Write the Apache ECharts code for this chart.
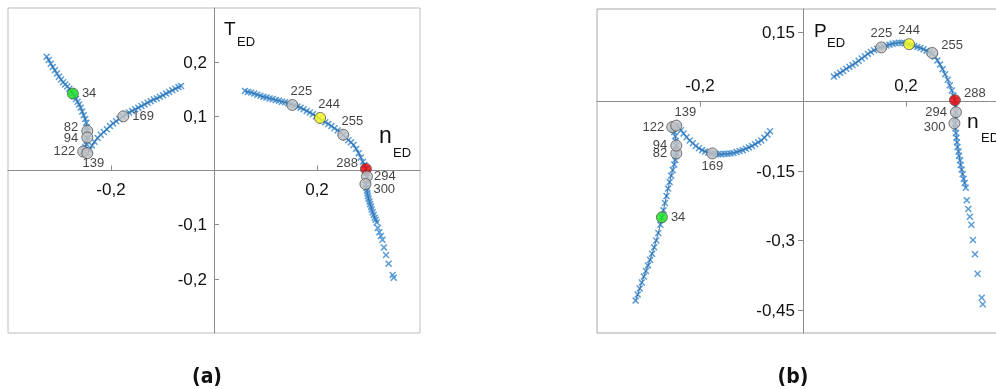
<!DOCTYPE html>
<html>
<head>
<meta charset="utf-8">
<script src="https://cdn.jsdelivr.net/npm/echarts@6/dist/echarts.min.js"></script>
<style>
  html, body { margin: 0; padding: 0; background: #ffffff; }
  #chart { width: 996px; height: 389px; }
</style>
</head>
<body>
<div id="chart"></div>
<script>
// Trajectory of the system in the (n_ED, T_ED) and (n_ED, P_ED) planes.
// Left branch: descending limb to the minimum near state 139, then rising limb past 169.
const nLeft = [-0.325,-0.321,-0.317,-0.313,-0.309,-0.305,-0.301,-0.297,-0.293,-0.289,-0.285,-0.281,-0.277,-0.274,-0.271,-0.268,-0.265,-0.262,-0.259,-0.256,-0.253,-0.250,-0.248,-0.247,-0.246,-0.246,-0.246,-0.247,-0.248,-0.250,-0.252,-0.254,-0.250,-0.246,
  -0.242,-0.237,-0.232,-0.226,-0.220,-0.214,-0.208,-0.202,-0.196,-0.190,-0.184,-0.177,-0.171,-0.165,-0.159,-0.153,-0.147,-0.141,-0.135,-0.129,-0.123,-0.117,-0.111,-0.105,-0.099,-0.093,-0.087,-0.081,-0.075,-0.069,-0.064];
const tLeft = [0.210,0.204,0.197,0.191,0.185,0.179,0.173,0.168,0.163,0.159,0.155,0.151,0.146,0.142,0.137,0.132,0.127,0.122,0.116,0.109,0.102,0.095,0.088,0.080,0.073,0.067,0.061,0.055,0.049,0.043,0.038,0.035,0.033,0.032,
  0.038,0.046,0.053,0.060,0.066,0.071,0.076,0.082,0.087,0.091,0.095,0.100,0.104,0.107,0.110,0.113,0.116,0.119,0.122,0.125,0.128,0.131,0.133,0.136,0.139,0.142,0.145,0.148,0.151,0.154,0.156];
const pLeft = [-0.430,-0.417,-0.404,-0.391,-0.378,-0.366,-0.354,-0.342,-0.329,-0.315,-0.300,-0.284,-0.266,-0.250,-0.235,-0.219,-0.204,-0.188,-0.174,-0.160,-0.148,-0.136,-0.126,-0.118,-0.112,-0.103,-0.095,-0.085,-0.075,-0.066,-0.060,-0.055,-0.053,-0.052,
  -0.055,-0.062,-0.069,-0.077,-0.084,-0.090,-0.096,-0.101,-0.105,-0.108,-0.110,-0.112,-0.113,-0.114,-0.114,-0.113,-0.113,-0.112,-0.111,-0.109,-0.107,-0.105,-0.102,-0.099,-0.096,-0.092,-0.088,-0.084,-0.078,-0.071,-0.064];

// Right branch: arc through 225, 244, 255 down to 288-300 and beyond.
const nRight = [0.060,0.066,0.072,0.078,0.084,0.090,0.096,0.102,0.108,0.114,0.120,0.126,0.132,0.138,0.144,0.150,0.156,0.162,0.168,0.174,0.180,0.186,0.192,0.198,0.204,0.210,0.216,0.222,0.228,0.234,0.240,0.246,0.251,0.256,0.261,0.266,0.271,0.276,0.281,0.285,0.289,0.292,0.295,0.296,0.297,0.296,0.295,
  0.296,0.297,0.298,0.299,0.300,0.302,0.303,0.305,0.306,0.308,0.310,0.312,0.314,0.316];
const tRight = [0.147,0.145,0.144,0.142,0.140,0.138,0.136,0.135,0.133,0.132,0.130,0.129,0.127,0.126,0.124,0.122,0.120,0.118,0.116,0.113,0.110,0.107,0.104,0.100,0.097,0.093,0.089,0.086,0.082,0.078,0.074,0.070,0.066,0.061,0.056,0.052,0.047,0.040,0.032,0.024,0.016,0.010,0.003,-0.004,-0.012,-0.019,-0.026,
  -0.032,-0.037,-0.042,-0.047,-0.052,-0.057,-0.062,-0.067,-0.072,-0.077,-0.082,-0.087,-0.091,-0.096];
const pRight = [0.054,0.058,0.062,0.066,0.071,0.075,0.079,0.083,0.088,0.093,0.098,0.103,0.107,0.111,0.114,0.117,0.119,0.121,0.123,0.125,0.126,0.127,0.127,0.126,0.124,0.122,0.120,0.118,0.116,0.113,0.110,0.107,0.104,0.097,0.089,0.080,0.070,0.059,0.047,0.035,0.024,0.013,0.002,-0.010,-0.023,-0.035,-0.047,
  -0.058,-0.068,-0.078,-0.088,-0.098,-0.108,-0.117,-0.127,-0.137,-0.147,-0.157,-0.167,-0.176,-0.186];

// Sparse final states.
const nTail = [0.318,0.321,0.324,0.327,0.330,0.334,0.339,0.347,0.349];
const tTail = [-0.106,-0.114,-0.121,-0.128,-0.142,-0.156,-0.172,-0.193,-0.198];
const pTail = [-0.213,-0.232,-0.249,-0.266,-0.299,-0.330,-0.372,-0.424,-0.438];

// Numbered states marked with circles.
const markLabels = ['34','82','94','122','139','169','225','244','255','288','294','300'];
const markN = [-0.274,-0.246,-0.246,-0.254,-0.246,-0.176,0.152,0.206,0.251,0.295,0.297,0.294];
const markT = [0.142,0.073,0.061,0.035,0.032,0.100,0.121,0.097,0.066,0.003,-0.011,-0.025];
const markP = [-0.250,-0.112,-0.095,-0.055,-0.052,-0.112,0.117,0.124,0.105,0.003,-0.023,-0.047];

// Axis ticks.
const nTicks = [-0.2, 0.2];
const tTicks = [-0.2, -0.1, 0.1, 0.2];
const pTicks = [-0.45, -0.3, -0.15, 0.15];

// ---- styling ----
const FONT = '"Liberation Sans", Arial, sans-serif';
const INK = '#111111';
const AXIS_GRAY = '#8c8c8c';
const markColor = { '34': '#19e619', '244': '#ffff1a', '288': '#ee0000' };
const labelPlaceA = {
  '34':  { position: 'right', distance: 3 },
  '82':  { position: 'left', distance: 3, offset: [0, -4] },
  '94':  { position: 'left', distance: 3, offset: [0, 1] },
  '122': { position: 'left', distance: 2 },
  '139': { position: 'bottom', distance: 0, offset: [6, -2] },
  '169': { position: 'right', distance: 3 },
  '225': { position: 'top', distance: 1, offset: [9, 0] },
  '244': { position: 'top', distance: 1, offset: [9, 0] },
  '255': { position: 'top', distance: 1, offset: [9, 0] },
  '288': { position: 'left', distance: 2, offset: [0, -5] },
  '294': { position: 'right', distance: 1 },
  '300': { position: 'right', distance: 2, offset: [0, 5] }
};
const labelPlaceB = {
  '34':  { position: 'right', distance: 3 },
  '82':  { position: 'left', distance: 3 },
  '94':  { position: 'left', distance: 3 },
  '122': { position: 'left', distance: 2 },
  '139': { position: 'top', distance: 1, offset: [9, 0] },
  '169': { position: 'bottom', distance: 1 },
  '225': { position: 'top', distance: 1 },
  '244': { position: 'top', distance: 1 },
  '255': { position: 'right', distance: 3, offset: [0, -8] },
  '288': { position: 'right', distance: 3, offset: [0, -7] },
  '294': { position: 'left', distance: 3 },
  '300': { position: 'left', distance: 3, offset: [0, 4] }
};

const crossSymbol = 'path://M0,1.5L1.5,0L5,3.5L8.5,0L10,1.5L6.5,5L10,8.5L8.5,10L5,6.5L1.5,10L0,8.5L3.5,5Z';
const fmt = v => String(v).replace('.', ',');

function pairs(xs, ys) { return xs.map((x, i) => [x, ys[i]]); }

function marks(ys, place) {
  return markLabels.map((name, i) => ({
    name: name,
    value: [markN[i], ys[i]],
    itemStyle: { color: markColor[name] || '#c3c3c3' },
    label: Object.assign({ show: true, formatter: name, color: INK, fontSize: 13, fontFamily: FONT,
      textBorderWidth: 0 }, place[name])
  }));
}

// x-markers for every sampled state
function crossSeries(idx, data) {
  return {
    type: 'scatter', xAxisIndex: idx, yAxisIndex: idx,
    symbol: crossSymbol, symbolSize: 7,
    itemStyle: { color: '#4a92d2', opacity: 0.9 },
    data: data, z: 2, silent: true
  };
}

// darker core of the densely sampled stretches
function coreSeries(idx, data) {
  return {
    type: 'line', xAxisIndex: idx, yAxisIndex: idx,
    showSymbol: false, smooth: false,
    lineStyle: { color: '#1f5f9e', width: 1, opacity: 0.85 },
    data: data, z: 3, silent: true
  };
}

function markSeries(idx, data) {
  return {
    type: 'scatter', xAxisIndex: idx, yAxisIndex: idx,
    symbol: 'circle', symbolSize: 11,
    itemStyle: { borderColor: '#555555', borderWidth: 1 },
    data: data, z: 5, silent: true
  };
}

// Axis lines sit on zero; tick labels are placed next to the zero lines below.
function valueAxis(gridIndex, min, max, position, ticks, tickInside) {
  return {
    type: 'value', gridIndex: gridIndex, min: min, max: max, position: position,
    splitLine: { show: false },
    axisLine: { onZero: true, lineStyle: { color: AXIS_GRAY, width: 1 } },
    axisTick: { inside: tickInside, length: 5, customValues: ticks, lineStyle: { color: AXIS_GRAY } },
    axisLabel: { show: false }
  };
}

function panelSeries(idx, yLeft, yRight, yTail, yMark, place) {
  const left = pairs(nLeft, yLeft);
  const right = pairs(nRight, yRight);
  const tail = pairs(nTail, yTail);
  return [
    crossSeries(idx, left.concat(right, tail)),
    coreSeries(idx, left),
    coreSeries(idx, right),
    markSeries(idx, marks(yMark, place))
  ];
}

const chart = echarts.init(document.getElementById('chart'), null, { renderer: 'canvas' });

chart.setOption({
  animation: false,
  backgroundColor: '#ffffff',
  grid: [
    { left: 8, top: 8, width: 412, height: 325, containLabel: false, outerBoundsMode: 'none',
      show: true, borderColor: '#bdbdbd', borderWidth: 1, backgroundColor: 'transparent' },
    { left: 597, top: 9, width: 412, height: 324, containLabel: false, outerBoundsMode: 'none',
      show: true, borderColor: '#a8a8a8', borderWidth: 1, backgroundColor: 'transparent' }
  ],
  xAxis: [
    valueAxis(0, -0.4, 0.4, 'bottom', nTicks, true),
    valueAxis(1, -0.4, 0.4, 'top', nTicks, true)
  ],
  yAxis: [
    valueAxis(0, -0.3, 0.3, 'left', tTicks, true),
    valueAxis(1, -0.5, 0.2, 'left', pTicks, false)
  ],
  series: [].concat(
    panelSeries(0, tLeft, tRight, tTail, markT, labelPlaceA),
    panelSeries(1, pLeft, pRight, pTail, markP, labelPlaceB)
  )
});

// Tick labels beside the zero lines, positioned through the axes' own scales.
function tickText(gridIndex, axis, v, dx, dy, align, vAlign) {
  const p = chart.convertToPixel({ gridIndex: gridIndex }, axis === 'x' ? [v, 0] : [0, v]);
  return { type: 'text', x: p[0] + dx, y: p[1] + dy,
    style: { text: fmt(v), font: '17px ' + FONT, fill: INK, align: align, verticalAlign: vAlign } };
}

const tickLabels = [].concat(
  nTicks.map(v => tickText(0, 'x', v, 0, 11, 'center', 'top')),
  tTicks.map(v => tickText(0, 'y', v, -7, 1, 'right', 'middle')),
  nTicks.map(v => tickText(1, 'x', v, 0, -15, 'center', 'middle')),
  pTicks.map(v => tickText(1, 'y', v, -8, 1, 'right', 'middle'))
);

function txt(x, y, s, font) {
  return { type: 'text', x: x, y: y, style: { text: s, font: font, fill: INK, verticalAlign: 'top' } };
}

const CAPTION_FONT = 'bold 21px "DejaVu Sans Condensed", "Liberation Sans Narrow", sans-serif';

chart.setOption({
  graphic: tickLabels.concat([
    // axis names with subscripts
    txt(224, 20, 'T', '19px ' + FONT),
    txt(237, 36, 'ED', '13px ' + FONT),
    txt(379, 125, 'n', '23px ' + FONT),
    txt(393, 147, 'ED', '13px ' + FONT),
    txt(814, 22, 'P', '19px ' + FONT),
    txt(827, 37, 'ED', '13px ' + FONT),
    txt(967, 112, 'n', '21px ' + FONT),
    txt(981, 132, 'ED', '13px ' + FONT),
    // panel captions
    { type: 'text', x: 207, y: 378, style: { text: '(a)', font: CAPTION_FONT,
      fill: '#111111', align: 'center', verticalAlign: 'middle' } },
    { type: 'text', x: 793, y: 378, style: { text: '(b)', font: CAPTION_FONT,
      fill: '#111111', align: 'center', verticalAlign: 'middle' } }
  ])
});
</script>
</body>
</html>
